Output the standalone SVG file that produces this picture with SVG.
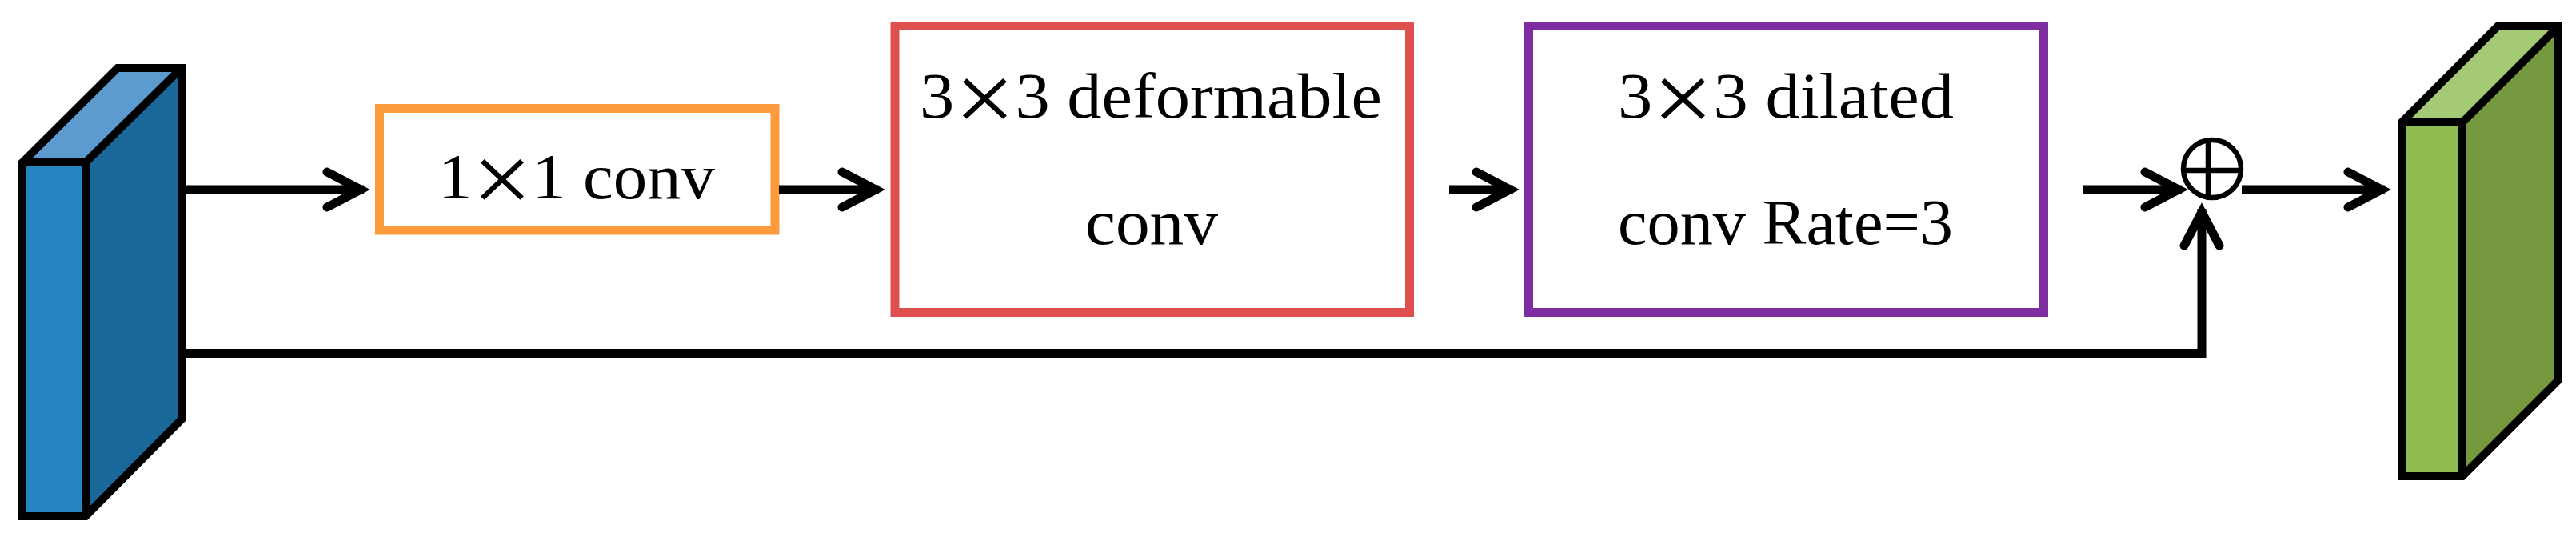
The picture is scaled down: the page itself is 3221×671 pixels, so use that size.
<svg xmlns="http://www.w3.org/2000/svg" width="3221" height="671" viewBox="0 0 3221 671">
<style>
.face{stroke:none}
.edge{fill:none;stroke:#000;stroke-width:10;stroke-linejoin:miter}
.box{fill:#fff;stroke-width:11}
.lbl{font-family:"Liberation Serif","Times New Roman",serif;font-size:80px;fill:#000}
.x{font-size:125px}
.wire{fill:none;stroke:#000;stroke-width:11;stroke-linejoin:miter}
</style>
<defs>
<marker id="chev" markerUnits="userSpaceOnUse" orient="auto" refX="0" refY="0" markerWidth="10" markerHeight="10" overflow="visible">
<path d="M-46,-22 L-4,0 L-46,22" fill="none" stroke="#000" stroke-width="11" stroke-linecap="round" stroke-linejoin="miter" stroke-miterlimit="10"/>
</marker>
</defs>
<rect width="3221" height="671" fill="#fff"/>
<g id="input">
<polygon class="face" points="107,203 227,85 227,524 107,645" fill="#1A679A"/>
<polygon class="face" points="28,203 147,85 227,85 107,203" fill="#5B9BCF"/>
<polygon class="face" points="28,203 107,203 107,645 28,645" fill="#2683C2"/>
<path class="edge" d="M28,203 L147,85 H227 V524 L107,645 H28 Z M28,203 H107 L227,85 M107,203 V645"/>
</g>
<g id="conv1x1">
<rect class="box" x="474.5" y="135.5" width="494.5" height="152.5" stroke="#FD9A3E"/>
<text class="lbl" x="548" y="248" textLength="346" lengthAdjust="spacingAndGlyphs">1<tspan class="x" dy="18">×</tspan><tspan dy="-18">1 conv</tspan></text>
</g>
<g id="deform">
<rect class="box" x="1119" y="32.5" width="643.5" height="358" stroke="#DE5050"/>
<text class="lbl" x="1150" y="147" textLength="578" lengthAdjust="spacingAndGlyphs">3<tspan class="x" dy="18">×</tspan><tspan dy="-18">3 deformable</tspan></text>
<text class="lbl" x="1357" y="305" textLength="166" lengthAdjust="spacingAndGlyphs">conv</text>
</g>
<g id="dilated">
<rect class="box" x="1911.5" y="32.5" width="644" height="358" stroke="#7F2EA2"/>
<text class="lbl" x="2023" y="147" textLength="420" lengthAdjust="spacingAndGlyphs">3<tspan class="x" dy="18">×</tspan><tspan dy="-18">3 dilated</tspan></text>
<text class="lbl" x="2023" y="305" textLength="419" lengthAdjust="spacingAndGlyphs">conv Rate=3</text>
</g>
<g id="add">
<circle cx="2766" cy="211" r="36" fill="#fff" stroke="#000" stroke-width="6.5"/>
<line x1="2761" y1="175" x2="2761" y2="247" stroke="#000" stroke-width="6.5"/>
<line x1="2730" y1="213" x2="2802" y2="213" stroke="#000" stroke-width="6.5"/>
</g>
<g id="output">
<polygon class="face" points="3079,153 3199,33 3199,475 3079,595" fill="#76993F"/>
<polygon class="face" points="3003,153 3123,33 3199,33 3079,153" fill="#A5CA75"/>
<polygon class="face" points="3003,153 3079,153 3079,595 3003,595" fill="#8FBC4F"/>
<path class="edge" d="M3003,153 L3123,33 H3199 V475 L3079,595 H3003 Z M3003,153 H3079 L3199,33 M3079,153 V595"/>
</g>
<g id="connectors">
<path class="wire" d="M227,237 H455" marker-end="url(#chev)"/>
<path class="wire" d="M974,237 H1099" marker-end="url(#chev)"/>
<path class="wire" d="M1812,237 H1892" marker-end="url(#chev)"/>
<path class="wire" d="M2604,237 H2728" marker-end="url(#chev)"/>
<path class="wire" d="M2803,237 H2982" marker-end="url(#chev)"/>
<path class="wire" d="M227,441.5 H2753 V261" marker-end="url(#chev)"/>
</g>
</svg>
